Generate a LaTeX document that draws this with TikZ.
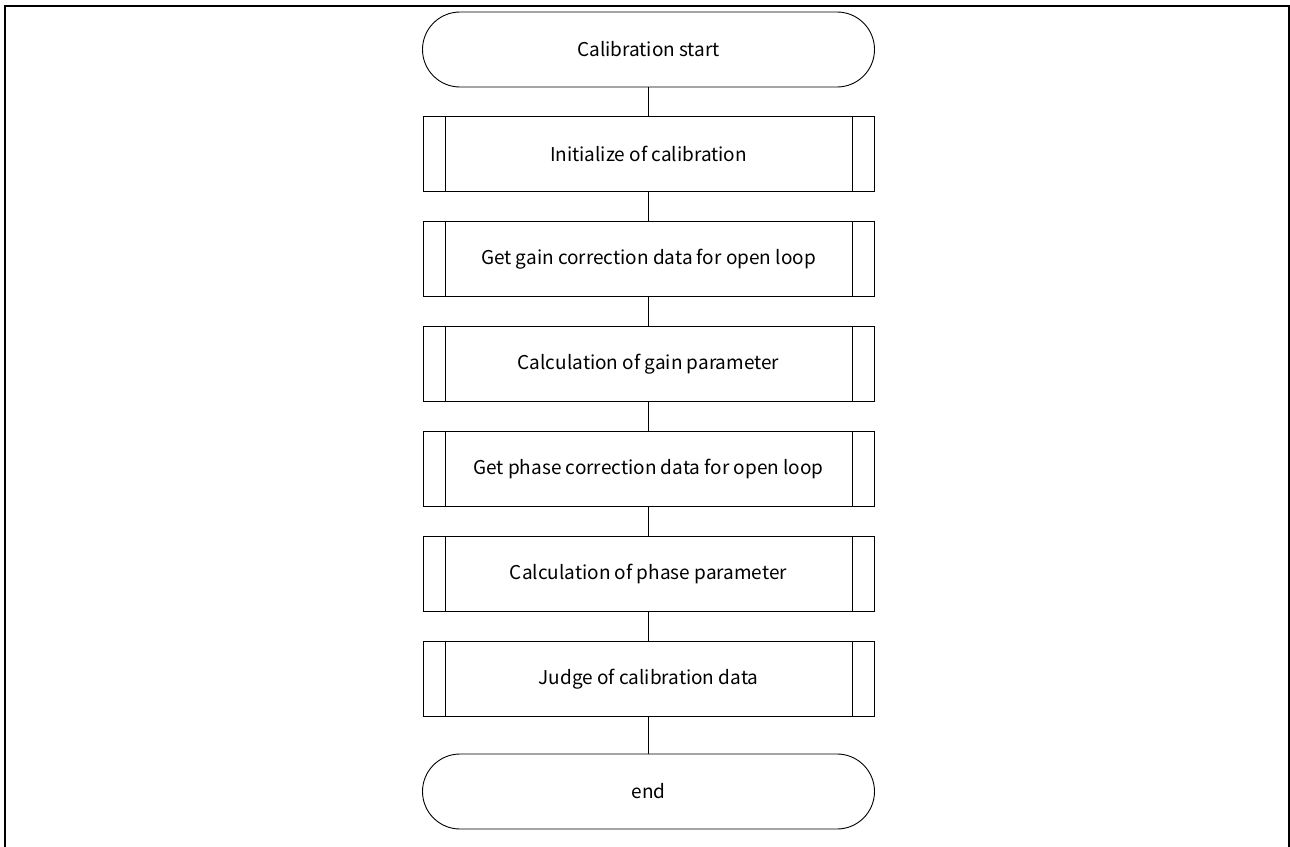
\documentclass[tikz,border=0pt]{standalone}
\usepackage{fontspec}
\setmainfont{Noto Sans CJK JP}
\begin{document}
\begin{tikzpicture}[x=1pt,y=-1pt,
  terminal/.style={draw, line width=0.9pt, rounded corners=37.5pt,
    minimum width=452pt, minimum height=75pt, inner sep=0pt,
    font=\fontsize{19}{22}\selectfont},
  subbox/.style={draw, line width=0.9pt, minimum width=451pt, minimum height=75pt,
    inner sep=0pt, font=\fontsize{19}{22}\selectfont,
    path picture={
      \draw[line width=0.9pt]
        ([xshift=22pt]path picture bounding box.north west) --
        ([xshift=22pt]path picture bounding box.south west)
        ([xshift=-22pt]path picture bounding box.north east) --
        ([xshift=-22pt]path picture bounding box.south east);}},
  link/.style={line width=1.6pt}]
\useasboundingbox (0,0) rectangle (1290,846);
\clip (0,0) rectangle (1290,846);
% outer frame
\draw[line width=2.5pt] (5,860) -- (5,6) -- (1288.8,6) -- (1288.8,860);
% flow
\node[terminal] (start) at (648.5,49.5) {Calibration start};
\node[subbox] (s1) at (648.5,154) {Initialize of calibration};
\node[subbox] (s2) at (648.5,259) {Get gain correction data for open loop};
\node[subbox] (s3) at (648.5,364) {Calculation of gain parameter};
\node[subbox] (s4) at (648.5,469) {Get phase correction data for open loop};
\node[subbox] (s5) at (648.5,574) {Calculation of phase parameter};
\node[subbox] (s6) at (648.5,679) {Judge of calibration data};
\node[terminal] (end) at (648.5,791.5) {end};
\foreach \a/\b in {start/s1,s1/s2,s2/s3,s3/s4,s4/s5,s5/s6,s6/end}
  \draw[link] (\a) -- (\b);
\end{tikzpicture}
\end{document}
